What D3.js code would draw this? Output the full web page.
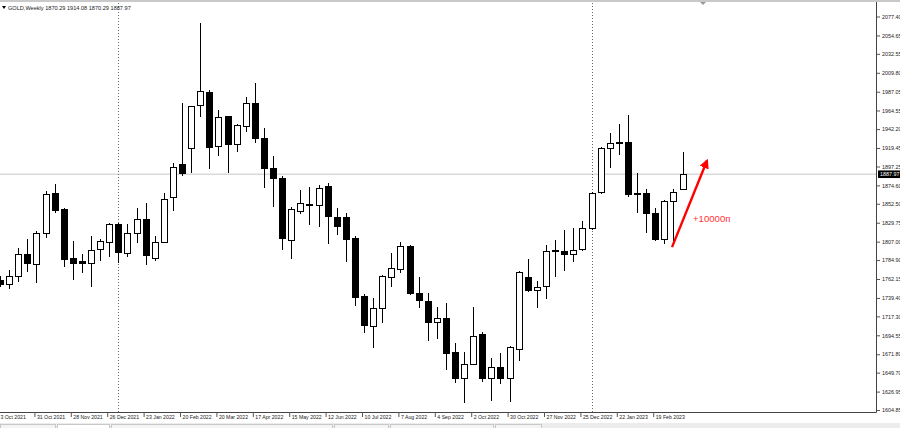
<!DOCTYPE html>
<html>
<head>
<meta charset="utf-8">
<script src="https://cdn.jsdelivr.net/npm/d3@7"></script>
<style>
  body { margin: 0; background: #fff; }
  svg { display: block; font-family: "Liberation Sans", Arial, sans-serif; }
</style>
</head>
<body>
<div class="canvas"></div>
<script>
// weekly bars, GOLD
const weeks = [
  '2021-10-03','2021-10-10','2021-10-17','2021-10-24','2021-10-31','2021-11-07','2021-11-14','2021-11-21','2021-11-28','2021-12-05',
  '2021-12-12','2021-12-19','2021-12-26','2022-01-02','2022-01-09','2022-01-16','2022-01-23','2022-01-30','2022-02-06','2022-02-13',
  '2022-02-20','2022-02-27','2022-03-06','2022-03-13','2022-03-20','2022-03-27','2022-04-03','2022-04-10','2022-04-17','2022-04-24',
  '2022-05-01','2022-05-08','2022-05-15','2022-05-22','2022-05-29','2022-06-05','2022-06-12','2022-06-19','2022-06-26','2022-07-03',
  '2022-07-10','2022-07-17','2022-07-24','2022-07-31','2022-08-07','2022-08-14','2022-08-21','2022-08-28','2022-09-04','2022-09-11',
  '2022-09-18','2022-09-25','2022-10-02','2022-10-09','2022-10-16','2022-10-23','2022-10-30','2022-11-06','2022-11-13','2022-11-20',
  '2022-11-27','2022-12-04','2022-12-11','2022-12-18','2022-12-25','2023-01-01','2023-01-08','2023-01-15','2023-01-22','2023-01-29',
  '2023-02-05','2023-02-12','2023-02-19','2023-02-26','2023-03-05','2023-03-12'
];

const open = [
  1761.0, 1756.1, 1765.8, 1792.2, 1780.1, 1817.4, 1865.4, 1846.2, 1787.4, 1783.8,
  1781.4, 1798.2, 1806.6, 1828.2, 1793.4, 1817.4, 1834.2, 1787.4, 1806.6, 1860.6,
  1900.3, 1919.5, 1971.1, 1986.7, 1921.9, 1957.9, 1924.3, 1945.9, 1973.5, 1931.5,
  1895.5, 1883.5, 1809.0, 1843.8, 1852.2, 1851.0, 1873.9, 1836.6, 1836.6, 1811.4,
  1741.8, 1705.7, 1727.4, 1764.6, 1774.1, 1801.8, 1745.3, 1735.8, 1710.5, 1715.3,
  1674.5, 1643.3, 1660.1, 1696.1, 1643.3, 1656.5, 1643.3, 1678.1, 1764.6, 1748.9,
  1753.8, 1796.5, 1795.8, 1792.2, 1798.2, 1823.4, 1866.7, 1919.5, 1925.5, 1926.7,
  1865.4, 1865.4, 1841.4, 1810.2, 1855.8, 1870.29
];
const high = [
  1765.8, 1772.9, 1799.4, 1810.2, 1819.8, 1867.9, 1876.3, 1847.4, 1807.8, 1792.2,
  1813.8, 1810.2, 1829.4, 1829.4, 1828.2, 1847.4, 1853.4, 1813.8, 1865.4, 1901.5,
  1973.5, 1970.5, 2069.6, 1989.1, 1965.1, 1958.5, 1948.3, 1980.7, 1997.5, 1943.5,
  1909.9, 1885.9, 1848.6, 1869.1, 1872.7, 1875.1, 1877.5, 1847.4, 1841.4, 1813.8,
  1744.2, 1739.4, 1767.0, 1793.4, 1806.6, 1803.0, 1764.6, 1745.3, 1728.6, 1733.4,
  1685.3, 1674.5, 1728.6, 1698.5, 1667.3, 1673.3, 1681.7, 1771.7, 1786.2, 1759.8,
  1803.0, 1809.0, 1821.0, 1823.4, 1831.8, 1866.7, 1920.7, 1937.5, 1948.3, 1959.1,
  1889.5, 1870.3, 1847.4, 1856.5, 1870.3, 1914.08
];
const low = [
  1752.6, 1750.1, 1758.5, 1770.5, 1757.3, 1811.4, 1841.4, 1776.5, 1761.0, 1769.3,
  1752.6, 1783.8, 1788.6, 1781.4, 1788.6, 1805.4, 1778.9, 1783.8, 1805.5, 1843.8,
  1885.9, 1889.5, 1956.7, 1894.3, 1909.9, 1889.5, 1914.7, 1938.7, 1925.5, 1871.5,
  1848.6, 1797.0, 1786.2, 1840.2, 1827.0, 1824.6, 1804.2, 1815.0, 1782.6, 1729.8,
  1697.3, 1679.3, 1709.3, 1752.6, 1769.3, 1743.0, 1727.4, 1687.7, 1690.1, 1652.9,
  1637.4, 1613.3, 1658.9, 1638.6, 1615.7, 1636.1, 1614.5, 1663.7, 1746.5, 1727.4,
  1738.2, 1764.6, 1772.0, 1782.6, 1795.8, 1821.0, 1864.2, 1895.5, 1911.1, 1860.6,
  1841.4, 1817.4, 1807.8, 1804.2, 1807.8, 1870.29
];
const close = [
  1756.1, 1765.8, 1792.2, 1781.4, 1817.4, 1864.2, 1845.0, 1786.2, 1781.4, 1781.4,
  1797.0, 1807.8, 1828.2, 1794.6, 1817.4, 1834.2, 1791.0, 1806.6, 1858.2, 1896.7,
  1889.5, 1969.9, 1987.9, 1920.7, 1956.7, 1924.3, 1947.1, 1973.5, 1931.5, 1895.5,
  1883.5, 1811.4, 1846.2, 1853.4, 1851.0, 1871.5, 1837.8, 1825.8, 1810.2, 1740.6,
  1706.9, 1727.4, 1765.8, 1775.3, 1801.8, 1745.3, 1737.0, 1710.5, 1715.3, 1673.3,
  1643.3, 1660.1, 1693.7, 1643.3, 1656.5, 1643.3, 1680.5, 1770.5, 1748.9, 1752.6,
  1795.8, 1797.5, 1792.2, 1797.0, 1823.4, 1865.4, 1919.5, 1925.5, 1926.7, 1864.2,
  1864.2, 1841.4, 1810.2, 1855.8, 1866.7, 1887.97
];

// price scale labels on the right
const priceTicks = [
  2077.40, 2054.65, 2032.55, 2009.80, 1987.05, 1964.55, 1942.20, 1919.45, 1897.25, 1874.60, 1852.50,
  1829.75, 1807.00, 1784.90, 1762.15, 1739.40, 1717.30, 1694.55, 1671.80, 1649.70, 1626.95, 1604.85
];
// every 4th week gets a date label
const dateTicks = [0, 4, 8, 12, 16, 20, 24, 28, 32, 36, 40, 44, 48, 52, 56, 60, 64, 68, 72];
// year separators (first bar of the year)
const separators = ['2022-01-02', '2023-01-01'];

const symbol = 'GOLD,Weekly';
const lastPrice = 1887.97;
const note = '+10000п';
// arrow from / to (bar index, price)
const arrowFrom = [73.85, 1800.5];
const arrowTo = [77.7, 1904.5];

const W = 900, H = 428;
const plotRight = 876, plotBottom = 412;

const svg = d3.select('.canvas')
  .append('svg')
    .attr('width', W)
    .attr('height', H);

const data = weeks.map((w, i) => ({
  date: d3.utcParse('%Y-%m-%d')(w), i,
  o: open[i], h: high[i], l: low[i], c: close[i]
}));

const x = d3.scaleLinear()
  .domain([0, weeks.length - 1])
  .range([0, 682.5]);

const y = d3.scaleLinear()
  .domain([1604.85, 2077.40])
  .range([410, 16.5]);

// window top edge
svg.append('rect')
  .attr('x', 0).attr('y', 0).attr('width', W).attr('height', 2)
  .attr('fill', '#c9c9c9');
svg.append('path')
  .attr('d', 'M700,2 L706,2 L703,5 Z')
  .attr('fill', '#9a9a9a');

// current price line
svg.append('line')
  .attr('x1', 0).attr('x2', plotRight)
  .attr('y1', y(lastPrice)).attr('y2', y(lastPrice))
  .attr('stroke', '#d9d9d9')
  .attr('stroke-width', 1.5);

// period separators
svg.selectAll('line.sep')
  .data(separators)
  .enter()
  .append('line')
    .attr('class', 'sep')
    .attr('x1', d => Math.round(x(weeks.indexOf(d))) + 0.5)
    .attr('x2', d => Math.round(x(weeks.indexOf(d))) + 0.5)
    .attr('y1', 3).attr('y2', plotBottom)
    .attr('stroke', '#6a6a6a')
    .attr('stroke-dasharray', '1,2');

// candles
const candles = svg.append('g')
  .attr('shape-rendering', 'crispEdges');

const bars = candles.selectAll('g')
  .data(data)
  .enter()
  .append('g');

bars.append('line')
  .attr('x1', d => Math.round(x(d.i)) + 0.5)
  .attr('x2', d => Math.round(x(d.i)) + 0.5)
  .attr('y1', d => y(d.h))
  .attr('y2', d => y(d.l))
  .attr('stroke', '#000');

bars.append('rect')
  .attr('x', d => Math.round(x(d.i)) - 2.5)
  .attr('width', 6)
  .attr('y', d => Math.round(y(Math.max(d.o, d.c))) + 0.5)
  .attr('height', d => Math.max(1, Math.round(Math.abs(y(d.o) - y(d.c)))))
  .attr('fill', d => d.c >= d.o ? '#fff' : '#000')
  .attr('stroke', '#000');

// axes frame
svg.append('line')
  .attr('x1', plotRight + 0.5).attr('x2', plotRight + 0.5)
  .attr('y1', 2).attr('y2', plotBottom + 0.5)
  .attr('stroke', '#444');
svg.append('line')
  .attr('x1', 0).attr('x2', plotRight + 0.5)
  .attr('y1', plotBottom + 0.5).attr('y2', plotBottom + 0.5)
  .attr('stroke', '#444');

// right price axis
const yAxis = d3.axisRight(y)
  .tickValues(priceTicks)
  .tickFormat(d3.format('.2f'))
  .tickSize(3)
  .tickPadding(2);

const yAxisGroup = svg.append('g')
  .attr('transform', `translate(${plotRight + 1}, 0)`)
  .call(yAxis);
yAxisGroup.select('.domain').remove();
yAxisGroup.selectAll('line').attr('stroke', '#555');
yAxisGroup.selectAll('text')
  .attr('fill', '#222')
  .style('font-size', '5.4px')
  .style('font-family', '"Liberation Sans", Arial, sans-serif');

// last price tag
svg.append('rect')
  .attr('x', plotRight + 2).attr('y', y(lastPrice) - 3.8)
  .attr('width', 23).attr('height', 7.6)
  .attr('fill', '#000');
svg.append('text')
  .attr('x', plotRight + 4).attr('y', y(lastPrice) + 2)
  .attr('fill', '#fff')
  .style('font-size', '5.4px')
  .text(lastPrice.toFixed(2));

// bottom date axis
const fmt = d3.utcFormat('%-d %b %Y');
const xAxis = d3.axisBottom(x)
  .tickValues(dateTicks)
  .tickFormat(i => fmt(data[i].date))
  .tickSize(5);

const xAxisGroup = svg.append('g')
  .attr('transform', `translate(-2, ${plotBottom})`)
  .call(xAxis);
xAxisGroup.select('.domain').remove();
xAxisGroup.selectAll('line').attr('stroke', '#555');
xAxisGroup.selectAll('text')
  .attr('fill', '#222')
  .attr('text-anchor', 'start')
  .attr('x', 2)
  .attr('y', 3)
  .attr('dy', '0.71em')
  .style('font-size', '5.2px')
  .style('font-family', '"Liberation Sans", Arial, sans-serif');

// bottom tab strip
svg.append('rect')
  .attr('x', 0).attr('y', 423).attr('width', W).attr('height', 5)
  .attr('fill', '#ececec');
[[0, 56], [57, 110], [111, 333], [334, 389], [390, 494], [495, 542]].forEach(t => {
  svg.append('rect')
    .attr('x', t[0] + 0.5).attr('y', 424.5)
    .attr('width', t[1] - t[0] - 1).attr('height', 4)
    .attr('fill', t[0] === 57 ? '#fff' : '#f4f4f4')
    .attr('stroke', '#c8c8c8');
});

// header
svg.append('path')
  .attr('d', 'M2,6 L6,6 L4,9 Z')
  .attr('fill', '#000');
svg.append('text')
  .attr('x', 8).attr('y', 9.5)
  .attr('fill', '#222')
  .style('font-size', '5.6px')
  .text(`${symbol}  ${open[75].toFixed(2)} ${high[75].toFixed(2)} ${low[75].toFixed(2)} ${close[75].toFixed(2)}`);

// red arrow annotation
const defs = svg.append('defs');
defs.append('marker')
  .attr('id', 'head')
  .attr('viewBox', '0 0 10 10')
  .attr('refX', 8).attr('refY', 5)
  .attr('markerWidth', 4).attr('markerHeight', 4)
  .attr('orient', 'auto')
  .append('path')
    .attr('d', 'M0,0 L10,5 L0,10 Z')
    .attr('fill', '#ff0000');

svg.append('line')
  .attr('x1', x(arrowFrom[0])).attr('y1', y(arrowFrom[1]))
  .attr('x2', x(arrowTo[0])).attr('y2', y(arrowTo[1]))
  .attr('stroke', '#ff0000')
  .attr('stroke-width', 2.4)
  .attr('marker-end', 'url(#head)');

svg.append('text')
  .attr('x', 693).attr('y', 222)
  .attr('fill', '#ff3333')
  .style('font-size', '9.6px')
  .text(note);
</script>
</body>
</html>
